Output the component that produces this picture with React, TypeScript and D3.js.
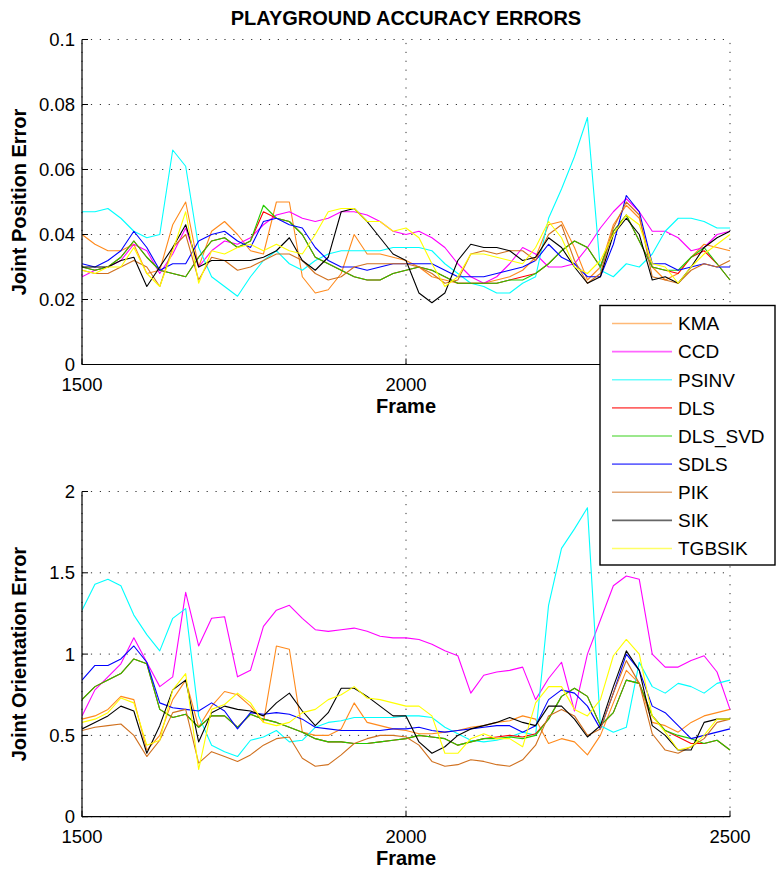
import * as d3 from 'd3';

// frame numbers sampled along the x axis
const frames = [
  1500, 1520, 1540, 1560, 1580, 1600, 1620, 1640, 1660, 1680,
  1700, 1720, 1740, 1760, 1780, 1800, 1820, 1840, 1860, 1880,
  1900, 1920, 1940, 1960, 1980, 2000, 2020, 2040, 2060, 2080,
  2100, 2120, 2140, 2160, 2180, 2200, 2220, 2240, 2260, 2280,
  2300, 2320, 2340, 2360, 2380, 2400, 2420, 2440, 2460, 2480,
  2500,
];

// --- joint position error (top panel) ---
const posKMA = [
  0.040, 0.037, 0.035, 0.035, 0.037, 0.028, 0.029, 0.043, 0.050, 0.030,
  0.041, 0.044, 0.040, 0.035, 0.034, 0.050, 0.050, 0.027, 0.022, 0.023,
  0.028, 0.040, 0.034, 0.034, 0.033, 0.032, 0.030, 0.027, 0.026, 0.025,
  0.025, 0.025, 0.026, 0.027, 0.029, 0.033, 0.043, 0.044, 0.036, 0.026,
  0.030, 0.043, 0.049, 0.045, 0.030, 0.026, 0.028, 0.033, 0.037, 0.036,
  0.035,
];
const posCCD = [
  0.027, 0.029, 0.030, 0.032, 0.037, 0.035, 0.028, 0.034, 0.042, 0.030,
  0.035, 0.038, 0.037, 0.039, 0.043, 0.046, 0.047, 0.045, 0.044, 0.045,
  0.047, 0.047, 0.046, 0.044, 0.041, 0.040, 0.041, 0.039, 0.036, 0.031,
  0.027, 0.025, 0.027, 0.031, 0.036, 0.034, 0.030, 0.030, 0.031, 0.036,
  0.042, 0.047, 0.051, 0.047, 0.041, 0.041, 0.039, 0.035, 0.036, 0.040,
  0.041,
];
const posPSINV = [
  0.047, 0.047, 0.048, 0.045, 0.041, 0.039, 0.040, 0.066, 0.061, 0.036,
  0.027, 0.024, 0.021, 0.027, 0.032, 0.035, 0.031, 0.029, 0.032, 0.034,
  0.035, 0.035, 0.035, 0.035, 0.036, 0.036, 0.036, 0.035, 0.031, 0.028,
  0.025, 0.024, 0.022, 0.022, 0.025, 0.027, 0.045, 0.054, 0.064, 0.076,
  0.029, 0.027, 0.031, 0.030, 0.034, 0.041, 0.045, 0.045, 0.044, 0.042,
  0.042,
];
const posDLS = [
  0.030, 0.029, 0.030, 0.033, 0.038, 0.033, 0.029, 0.028, 0.027, 0.033,
  0.038, 0.039, 0.036, 0.038, 0.047, 0.045, 0.044, 0.040, 0.033, 0.031,
  0.029, 0.027, 0.026, 0.026, 0.028, 0.029, 0.030, 0.029, 0.027, 0.025,
  0.025, 0.025, 0.025, 0.026, 0.027, 0.028, 0.031, 0.035, 0.038, 0.036,
  0.030, 0.041, 0.046, 0.038, 0.030, 0.029, 0.028, 0.033, 0.035, 0.031,
  0.026,
];
const posDLSSVD = [
  0.030, 0.029, 0.030, 0.033, 0.038, 0.033, 0.029, 0.028, 0.027, 0.033,
  0.038, 0.039, 0.036, 0.038, 0.049, 0.045, 0.044, 0.040, 0.033, 0.031,
  0.029, 0.027, 0.026, 0.026, 0.028, 0.029, 0.030, 0.029, 0.027, 0.025,
  0.025, 0.025, 0.025, 0.026, 0.026, 0.028, 0.031, 0.035, 0.038, 0.036,
  0.030, 0.041, 0.046, 0.038, 0.030, 0.029, 0.029, 0.033, 0.036, 0.031,
  0.026,
];
const posSDLS = [
  0.031, 0.030, 0.032, 0.035, 0.041, 0.036, 0.029, 0.031, 0.031, 0.038,
  0.040, 0.041, 0.038, 0.036, 0.044, 0.045, 0.043, 0.042, 0.036, 0.032,
  0.030, 0.030, 0.029, 0.030, 0.031, 0.031, 0.031, 0.031, 0.029, 0.027,
  0.027, 0.027, 0.028, 0.029, 0.030, 0.032, 0.037, 0.033, 0.031, 0.027,
  0.027, 0.037, 0.052, 0.047, 0.031, 0.031, 0.029, 0.030, 0.031, 0.030,
  0.030,
];
const posPIK = [
  0.029, 0.028, 0.028, 0.030, 0.032, 0.030, 0.024, 0.036, 0.040, 0.026,
  0.033, 0.032, 0.029, 0.030, 0.032, 0.034, 0.034, 0.032, 0.028, 0.026,
  0.027, 0.030, 0.031, 0.031, 0.031, 0.031, 0.030, 0.028, 0.025, 0.026,
  0.034, 0.035, 0.034, 0.035, 0.035, 0.032, 0.040, 0.043, 0.032, 0.025,
  0.028, 0.042, 0.050, 0.046, 0.027, 0.026, 0.025, 0.029, 0.031, 0.030,
  0.032,
];
const posSIK = [
  0.030, 0.030, 0.030, 0.032, 0.033, 0.024, 0.030, 0.036, 0.043, 0.030,
  0.032, 0.032, 0.032, 0.032, 0.033, 0.035, 0.039, 0.032, 0.029, 0.033,
  0.047, 0.048, 0.044, 0.039, 0.034, 0.032, 0.022, 0.019, 0.022, 0.032,
  0.037, 0.036, 0.036, 0.035, 0.032, 0.033, 0.039, 0.036, 0.030, 0.025,
  0.027, 0.040, 0.045, 0.040, 0.026, 0.027, 0.025, 0.030, 0.036, 0.039,
  0.041,
];
const posTGBSIK = [
  0.029, 0.028, 0.030, 0.030, 0.036, 0.028, 0.024, 0.035, 0.047, 0.025,
  0.035, 0.034, 0.036, 0.037, 0.035, 0.037, 0.035, 0.034, 0.040, 0.047,
  0.048, 0.048, 0.044, 0.044, 0.041, 0.042, 0.039, 0.031, 0.024, 0.027,
  0.034, 0.034, 0.033, 0.032, 0.031, 0.036, 0.044, 0.039, 0.030, 0.028,
  0.032, 0.040, 0.046, 0.043, 0.031, 0.030, 0.025, 0.030, 0.034, 0.037,
  0.040,
];

// --- joint orientation error (bottom panel) ---
const oriKMA = [
  0.60, 0.62, 0.66, 0.74, 0.72, 0.41, 0.50, 0.72, 0.84, 0.55,
  0.68, 0.77, 0.75, 0.68, 0.58, 1.05, 1.03, 0.52, 0.50, 0.50,
  0.54, 0.70, 0.58, 0.56, 0.54, 0.53, 0.51, 0.51, 0.52, 0.53,
  0.55, 0.56, 0.58, 0.59, 0.62, 0.60, 0.45, 0.48, 0.46, 0.38,
  0.50, 0.70, 0.90, 0.82, 0.58, 0.56, 0.52, 0.58, 0.62, 0.64,
  0.66,
];
const oriCCD = [
  0.62, 0.78, 0.86, 0.94, 1.10, 0.95, 0.80, 0.86, 1.38, 1.05,
  1.22, 1.23, 0.86, 0.90, 1.17, 1.27, 1.30, 1.22, 1.15, 1.14,
  1.15, 1.16, 1.14, 1.11, 1.10, 1.10, 1.09, 1.06, 1.02, 0.99,
  0.76, 0.87, 0.89, 0.90, 0.92, 0.72, 0.85, 0.95, 0.65, 1.00,
  1.21, 1.42, 1.48, 1.46, 1.00, 0.92, 0.92, 0.96, 0.99, 0.89,
  0.66,
];
const oriPSINV = [
  1.27, 1.43, 1.46, 1.42, 1.24, 1.12, 1.02, 1.22, 1.28, 0.62,
  0.44, 0.40, 0.37, 0.47, 0.49, 0.53, 0.46, 0.47, 0.55, 0.58,
  0.59, 0.61, 0.61, 0.61, 0.61, 0.62, 0.62, 0.61, 0.55, 0.51,
  0.47, 0.46, 0.47, 0.49, 0.52, 0.50, 1.30, 1.65, 1.77, 1.90,
  0.56, 0.52, 0.55, 0.95, 0.80, 0.76, 0.82, 0.80, 0.76, 0.82,
  0.84,
];
const oriDLS = [
  0.72, 0.80, 0.84, 0.88, 0.97, 0.94, 0.66, 0.61, 0.63, 0.55,
  0.62, 0.62, 0.55, 0.63, 0.60, 0.58, 0.55, 0.52, 0.48, 0.46,
  0.46, 0.45, 0.45, 0.46, 0.47, 0.48, 0.50, 0.49, 0.48, 0.44,
  0.46, 0.48, 0.49, 0.50, 0.49, 0.51, 0.60, 0.74, 0.79, 0.74,
  0.56, 0.64, 0.84, 0.82, 0.62, 0.53, 0.49, 0.45, 0.45, 0.47,
  0.41,
];
const oriDLSSVD = [
  0.72, 0.80, 0.84, 0.88, 0.97, 0.94, 0.66, 0.61, 0.63, 0.55,
  0.62, 0.62, 0.55, 0.63, 0.60, 0.58, 0.55, 0.52, 0.48, 0.46,
  0.46, 0.45, 0.45, 0.46, 0.47, 0.48, 0.50, 0.49, 0.48, 0.44,
  0.46, 0.48, 0.48, 0.49, 0.48, 0.50, 0.60, 0.74, 0.79, 0.74,
  0.56, 0.64, 0.84, 0.82, 0.62, 0.53, 0.50, 0.48, 0.45, 0.47,
  0.41,
];
const oriSDLS = [
  0.84, 0.93, 0.93, 0.97, 1.05, 0.95, 0.70, 0.67, 0.66, 0.65,
  0.70, 0.65, 0.54, 0.64, 0.63, 0.64, 0.63, 0.60, 0.55, 0.54,
  0.53, 0.53, 0.53, 0.53, 0.54, 0.54, 0.55, 0.53, 0.52, 0.53,
  0.54, 0.55, 0.56, 0.56, 0.52, 0.56, 0.72, 0.78, 0.76, 0.68,
  0.54, 0.76, 1.00, 0.90, 0.68, 0.64, 0.56, 0.48, 0.50, 0.52,
  0.54,
];
const oriPIK = [
  0.53, 0.55, 0.56, 0.57, 0.50, 0.37, 0.47, 0.64, 0.66, 0.33,
  0.40, 0.37, 0.34, 0.38, 0.44, 0.48, 0.49, 0.36, 0.31, 0.32,
  0.38, 0.45, 0.48, 0.50, 0.50, 0.49, 0.44, 0.34, 0.31, 0.32,
  0.35, 0.34, 0.32, 0.31, 0.35, 0.44, 0.62, 0.66, 0.62, 0.50,
  0.54, 0.76, 0.96, 0.82, 0.51, 0.41, 0.39, 0.43, 0.48, 0.58,
  0.60,
];
const oriSIK = [
  0.54, 0.58, 0.62, 0.68, 0.65, 0.39, 0.56, 0.78, 0.84, 0.46,
  0.64, 0.68, 0.66, 0.65, 0.62, 0.70, 0.76, 0.65, 0.56, 0.64,
  0.79, 0.79, 0.74, 0.68, 0.62, 0.62, 0.46, 0.39, 0.43, 0.50,
  0.54, 0.56, 0.58, 0.61, 0.58, 0.56, 0.68, 0.68, 0.60, 0.49,
  0.56, 0.80, 1.02, 0.90, 0.56, 0.50, 0.41, 0.41, 0.58, 0.60,
  0.60,
];
const oriTGBSIK = [
  0.58, 0.60, 0.64, 0.73, 0.70, 0.44, 0.47, 0.78, 0.88, 0.29,
  0.66, 0.69, 0.76, 0.70, 0.58, 0.56, 0.58, 0.64, 0.66, 0.72,
  0.75, 0.80, 0.73, 0.72, 0.70, 0.68, 0.68, 0.62, 0.39, 0.39,
  0.48, 0.51, 0.48, 0.48, 0.43, 0.70, 0.80, 0.80, 0.66, 0.62,
  0.72, 0.99, 1.09, 1.00, 0.62, 0.52, 0.41, 0.43, 0.50, 0.60,
  0.60,
];

const names = ['KMA', 'CCD', 'PSINV', 'DLS', 'DLS_SVD', 'SDLS', 'PIK', 'SIK', 'TGBSIK'];
const colors = ['#ff8a1c', '#ff00ff', '#00ffff', '#ff0000', '#22cc00', '#0000ff', '#d0701e', '#000000', '#ffff00'];
const posSeries = [posKMA, posCCD, posPSINV, posDLS, posDLSSVD, posSDLS, posPIK, posSIK, posTGBSIK];
const oriSeries = [oriKMA, oriCCD, oriPSINV, oriDLS, oriDLSSVD, oriSDLS, oriPIK, oriSIK, oriTGBSIK];

const posTicks = [0, 0.02, 0.04, 0.06, 0.08, 0.1];
const oriTicks = [0, 0.5, 1, 1.5, 2];
const frameTicks = [1500, 2000, 2500];

const FONT = '"Liberation Sans", Arial, Helvetica, sans-serif';
const W = 776;
const H = 872;
const left = 82;
const right = 730;

// hideLabels: x tick labels that the legend box sits on top of
function Panel({ id, top, bottom, ymax, yTicks, series, ylabel, hideLabels = [] }) {
  const x = d3.scaleLinear().domain([1500, 2500]).range([left, right]);
  const y = d3.scaleLinear().domain([0, ymax]).range([bottom, top]);
  const line = d3.line<number>()
    .x((_, i) => x(frames[i]))
    .y((d) => y(d));

  return (
    <g>
      <clipPath id={id}>
        <rect x={left} y={top - 1} width={right - left + 1} height={bottom - top + 2} />
      </clipPath>

      {/* dotted grid */}
      {yTicks.map((t) => (
        <line key={'gy' + t} x1={left} x2={right} y1={y(t)} y2={y(t)}
          stroke="#333" strokeWidth={1} strokeDasharray="1.2 7.7" />
      ))}
      {frameTicks.map((t) => (
        <line key={'gx' + t} x1={x(t)} x2={x(t)} y1={bottom} y2={top}
          stroke="#333" strokeWidth={1} strokeDasharray="1.2 7.7" />
      ))}

      <g clipPath={`url(#${id})`}>
        {series.map((s, i) => (
          <path key={names[i]} d={line(s) || ''} fill="none" stroke={colors[i]}
            strokeWidth={1.1} strokeLinejoin="round" />
        ))}
      </g>

      {/* axes, ticks inward */}
      <line x1={left} x2={left} y1={top} y2={bottom} stroke="#000" strokeWidth={1.2} />
      <line x1={left} x2={right} y1={bottom} y2={bottom} stroke="#000" strokeWidth={1.2} />
      {yTicks.map((t) => (
        <g key={'ty' + t}>
          <line x1={left} x2={left + 6} y1={y(t)} y2={y(t)} stroke="#000" strokeWidth={1} />
          <text x={left - 7} y={y(t)} dy="0.36em" textAnchor="end" fontSize={18.5}
            fontFamily={FONT} fill="#000">{String(t)}</text>
        </g>
      ))}
      {frameTicks.map((t) => (
        <g key={'tx' + t}>
          <line x1={x(t)} x2={x(t)} y1={bottom} y2={bottom - 6} stroke="#000" strokeWidth={1} />
          {!hideLabels.includes(t) && (
            <text x={x(t)} y={bottom + 26} textAnchor="middle" fontSize={18.5}
              fontFamily={FONT} fill="#000">{String(t)}</text>
          )}
        </g>
      ))}

      <text x={(left + right) / 2} y={bottom + 48.5} textAnchor="middle" fontSize={20}
        fontWeight="bold" fontFamily={FONT}>Frame</text>
      <text transform={`translate(26,${(top + bottom) / 2}) rotate(-90)`} textAnchor="middle"
        fontSize={20} fontWeight="bold" fontFamily={FONT}>{ylabel}</text>
    </g>
  );
}

function Legend() {
  const lx = 600;
  const ly = 305.5;
  const row = d3.scalePoint().domain(names).range([323.5, 548.5]);
  return (
    <g>
      <rect x={lx} y={ly} width={175} height={259.5} fill="#fff" stroke="#000" strokeWidth={1.4} />
      {names.map((n, i) => (
        <g key={n}>
          <line x1={612} x2={672} y1={row(n)} y2={row(n)} stroke={colors[i]}
            strokeWidth={1.6} strokeOpacity={0.6} />
          <text x={678} y={row(n)} dy="0.36em" fontSize={19} fontFamily={FONT} fill="#000">{n}</text>
        </g>
      ))}
    </g>
  );
}

export default function App() {
  return (
    <svg width={W} height={H} viewBox={`0 0 ${W} ${H}`}
      style={{ position: 'absolute', left: 0, top: 0, background: '#fff' }}>
      <rect width={W} height={H} fill="#fff" />
      <text x={406} y={25} textAnchor="middle" fontSize={20} fontWeight="bold" fontFamily={FONT}>
        PLAYGROUND ACCURACY ERRORS
      </text>
      <Panel id="clipPos" top={39.5} bottom={364.5} ymax={0.1} yTicks={posTicks}
        series={posSeries} ylabel="Joint Position Error" hideLabels={[2500]} />
      <Panel id="clipOri" top={491.5} bottom={816.7} ymax={2} yTicks={oriTicks}
        series={oriSeries} ylabel="Joint Orientation Error" />
      <Legend />
    </svg>
  );
}
